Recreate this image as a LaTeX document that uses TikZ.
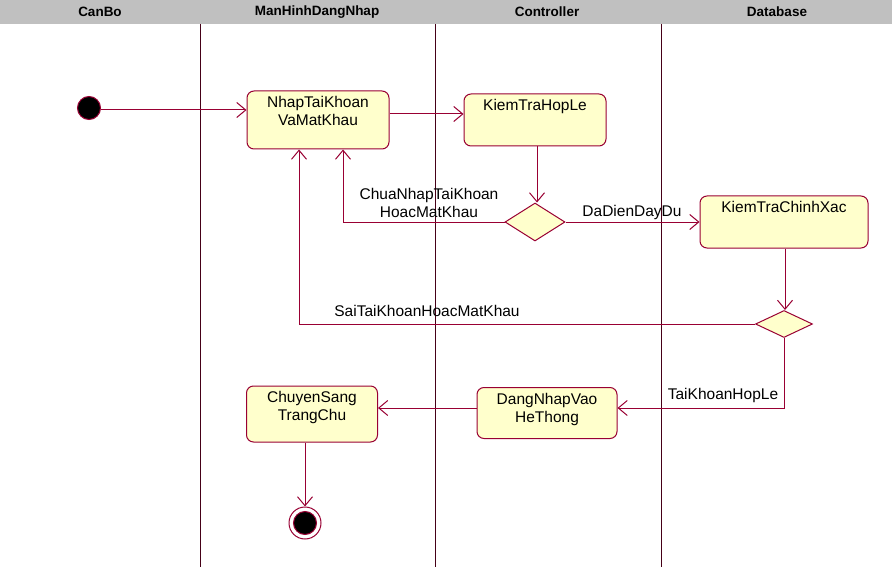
\documentclass[tikz,border=0pt]{standalone}
\usepackage{fontspec}
\setmainfont{Liberation Sans}
\usetikzlibrary{arrows.meta,shapes.geometric}
\definecolor{umlred}{RGB}{153,0,51}
\definecolor{umlfill}{RGB}{255,255,204}
\definecolor{hdrgray}{RGB}{192,192,192}
\tikzset{
  act/.style={draw=umlred, fill=umlfill, rounded corners=7pt, line width=1pt, inner sep=0pt},
  acttext/.style={anchor=north, align=center, inner sep=0pt, font=\fontsize{15.5}{18}\selectfont},
  dec/.style={draw=umlred, fill=umlfill, diamond, line width=1pt, inner sep=0pt, aspect=1.6},
  flow/.style={draw=umlred, line width=1pt, -{Straight Barb[length=9pt,width=15pt,line width=1pt]}},
  lbl/.style={align=center, inner sep=0pt, font=\fontsize{15.5}{18}\selectfont},
  hdr/.style={font=\bfseries\fontsize{13.5}{15}\selectfont, inner sep=0pt},
  lane/.style={draw=umlred!45!black, line width=1pt}
}
\begin{document}
\begin{tikzpicture}[x=1pt,y=-1pt]
\useasboundingbox (0,0) rectangle (892,567);
\fill[white] (0,0) rectangle (892,567);
\fill[hdrgray] (0,0) rectangle (892,24);
\node[hdr] (h1) at (100,12) {CanBo};
\node[hdr] (h2) at (317,12) {ManHinhDangNhap};
\node[hdr] (h3) at (547,12) {Controller};
\node[hdr] (h4) at (777,12) {Database};
\draw[lane] (200,24) -- (200,567);
\draw[lane] (435,24) -- (435,567);
\draw[lane] (661,24) -- (661,567);

% start
\node[circle, fill=black, draw=umlred, line width=1pt, minimum size=23pt, inner sep=0pt] (start) at (89,108) {};
% activities
\node[act, minimum width=142pt, minimum height=58pt] (nhap) at (318,120) {};
\node[acttext] (nhapt) at ([yshift=-6pt]nhap.north) {NhapTaiKhoan\\VaMatKhau};
\node[act, minimum width=142pt, minimum height=52pt] (ktra) at (535,120) {};
\node[acttext] (ktrat) at ([yshift=-6pt]ktra.north) {KiemTraHopLe};
\node[dec, minimum width=60pt, minimum height=38pt] (d1) at (535,222) {};
\node[act, minimum width=168pt, minimum height=52pt] (ktcx) at (784,222) {};
\node[acttext] (ktcxt) at ([yshift=-6pt]ktcx.north) {KiemTraChinhXac};
\node[dec, minimum width=57pt, minimum height=27pt, aspect=2.1] (d2) at (784,324) {};
\node[act, minimum width=140pt, minimum height=51pt] (dn) at (547,413) {};
\node[acttext] (dnt) at ([yshift=-6pt]dn.north) {DangNhapVao\\HeThong};
\node[act, minimum width=131pt, minimum height=56pt] (cs) at (312,414) {};
\node[acttext] (cst) at ([yshift=-6pt]cs.north) {ChuyenSang\\TrangChu};
% end
\node[circle, draw=umlred, fill=white, line width=1pt, minimum size=32pt, inner sep=0pt] (end) at (305,523) {};
\node[circle, fill=black, draw=umlred, line width=1pt, minimum size=23pt, inner sep=0pt] (endin) at (305,523) {};

% flows
\draw[flow] (start.east |- 0,110) -- (nhap.west |- 0,110);
\draw[flow] (nhap.east |- 0,114) -- (ktra.west |- 0,114);
\draw[flow] (ktra.south -| 537,0) -- (d1.north -| 537,0);
\draw[flow] (d1.west) -- (343,222) -- (343,0 |- nhap.south);
\draw[flow] (d1.east) -- (ktcx.west |- d1.east);
\draw[flow] (ktcx.south -| 785,0) -- (d2.north -| 785,0);
\draw[flow] (d2.west) -- (299,324) -- (299,0 |- nhap.south);
\draw[flow] (d2.south) -- (784,408) -- (dn.east |- 0,408);
\draw[flow] (dn.west |- 0,408) -- (cs.east |- 0,408);
\draw[flow] (cs.south -| 305,0) -- (end.north);

% labels
\node[lbl] (l1) at (429,203) {ChuaNhapTaiKhoan\\HoacMatKhau};
\node[lbl] (l2) at (632,212) {DaDienDayDu};
\node[lbl] (l3) at (427,311) {SaiTaiKhoanHoacMatKhau};
\node[lbl] (l4) at (723,395) {TaiKhoanHopLe};
\end{tikzpicture}
\end{document}
